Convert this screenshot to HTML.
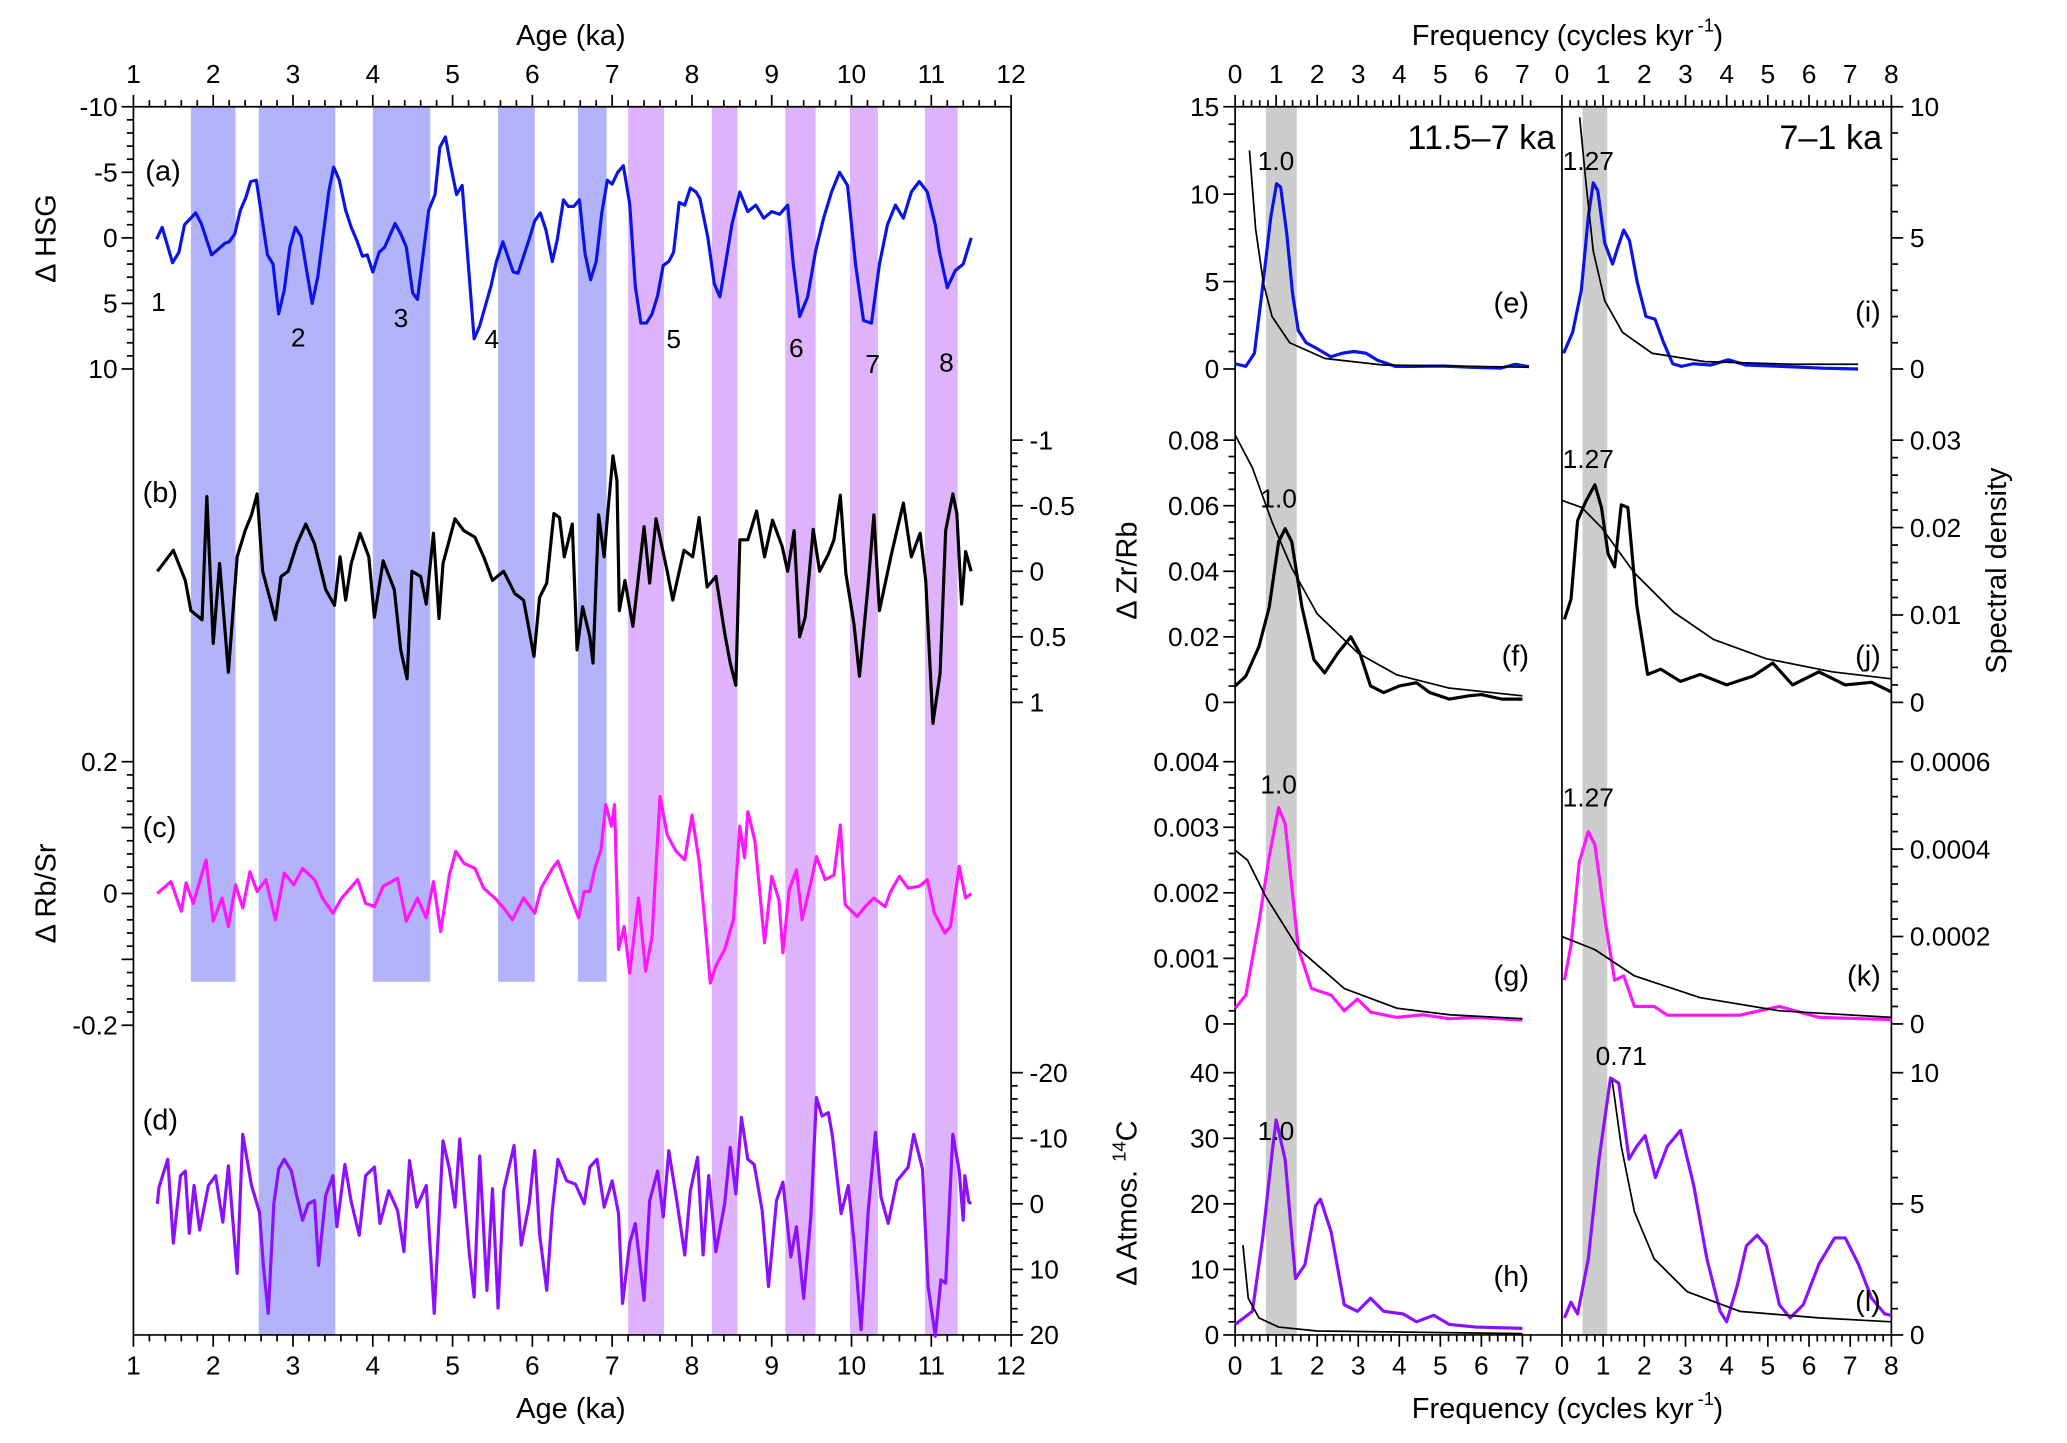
<!DOCTYPE html>
<html><head><meta charset="utf-8"><style>
html,body{margin:0;padding:0;background:#fff}
svg{display:block}
text{font-family:"Liberation Sans",Arial,sans-serif;fill:#000}
</style></head><body>
<svg id="chart" width="2067" height="1443" viewBox="0 0 1568 1095" xmlns="http://www.w3.org/2000/svg">
<g id="bands"></g>
<g id="axes"></g>
<g id="series"></g>
<g id="labels"></g>
<text x="862" y="913" font-size="22" text-anchor="middle" transform="rotate(-90 862 913)">Δ Atmos. <tspan font-size="14" dy="-8">14</tspan><tspan dy="8">C</tspan></text>
</svg>
<script>
// ---------- data: time series ----------
const hsgAge=[1.29,1.36,1.49,1.57,1.64,1.78,1.85,1.98,2.15,2.2,2.27,2.34,2.41,2.47,2.54,2.68,2.75,2.82,2.89,2.96,3.03,3.1,3.24,3.31,3.45,3.51,3.58,3.66,3.73,3.8,3.87,3.93,4.0,4.08,4.15,4.28,4.35,4.42,4.5,4.56,4.7,4.78,4.84,4.91,4.98,5.05,5.12,5.27,5.34,5.48,5.55,5.63,5.76,5.82,5.96,6.03,6.1,6.17,6.25,6.31,6.39,6.45,6.52,6.59,6.66,6.73,6.8,6.87,6.94,7.0,7.07,7.14,7.22,7.29,7.36,7.43,7.5,7.57,7.64,7.71,7.77,7.84,7.91,7.98,8.05,8.1,8.2,8.28,8.35,8.42,8.5,8.6,8.7,8.8,8.9,9.0,9.1,9.2,9.27,9.35,9.45,9.55,9.65,9.75,9.85,9.95,10.05,10.15,10.25,10.35,10.45,10.55,10.65,10.75,10.85,10.95,11.05,11.1,11.2,11.3,11.4,11.5];
const hsgVal=[0.1,-0.8,1.9,1.1,-1.0,-1.9,-1.1,1.3,0.4,0.3,-0.3,-2.1,-3.1,-4.3,-4.4,1.3,2.0,5.8,4.0,0.7,-0.8,-0.1,5.0,3.0,-3.6,-5.4,-4.4,-2.1,-0.8,0.2,1.4,1.3,2.6,1.1,0.7,-1.1,-0.3,0.7,4.2,4.7,-2.1,-3.3,-6.9,-7.7,-5.4,-3.3,-4.0,7.7,6.7,3.7,1.8,0.3,2.6,2.7,0.1,-1.3,-1.9,-0.6,1.8,0.2,-2.9,-2.4,-2.4,-2.9,1.2,3.2,1.8,-1.9,-4.4,-4.1,-5.0,-5.5,-2.6,3.7,6.5,6.5,5.8,4.4,2.1,1.8,1.1,-2.7,-2.5,-3.8,-3.5,-3.0,0,3.5,4.5,2,-1,-3.5,-2,-2.5,-1.5,-2,-1.8,-2.5,2,6,4.5,1,-1.5,-3.5,-5,-4,2,6.3,6.5,2,-1,-2.5,-1.5,-3.5,-4.3,-3.5,-1,1,3.8,2.5,2,0];
const zrAge=[1.3,1.5,1.65,1.72,1.86,1.92,2.0,2.08,2.19,2.3,2.4,2.48,2.55,2.62,2.78,2.85,2.94,3.05,3.16,3.27,3.41,3.52,3.59,3.66,3.73,3.84,3.95,4.02,4.13,4.27,4.35,4.43,4.49,4.6,4.67,4.76,4.83,4.88,5.03,5.14,5.28,5.39,5.5,5.64,5.78,5.89,5.96,6.02,6.09,6.18,6.27,6.34,6.4,6.5,6.56,6.63,6.72,6.76,6.83,6.9,6.94,7.01,7.06,7.09,7.16,7.26,7.4,7.47,7.55,7.69,7.76,7.9,8.01,8.09,8.19,8.3,8.41,8.48,8.55,8.6,8.7,8.81,8.91,9.01,9.13,9.2,9.28,9.35,9.42,9.52,9.6,9.71,9.78,9.86,9.93,10.03,10.1,10.21,10.28,10.35,10.5,10.65,10.75,10.86,10.93,11.02,11.11,11.18,11.27,11.32,11.38,11.43,11.5];
const zrVal=[0,-0.16,0.07,0.3,0.37,-0.57,0.55,-0.06,0.77,-0.11,-0.31,-0.43,-0.59,0,0.37,0.04,0,-0.21,-0.36,-0.21,0.14,0.26,-0.11,0.22,-0.06,-0.29,-0.11,0.35,-0.08,0.14,0.6,0.82,0,0.04,0.25,-0.29,0.36,-0.06,-0.4,-0.31,-0.26,-0.11,0.07,0,0.17,0.22,0.45,0.65,0.2,0.09,-0.44,-0.41,-0.11,-0.36,0.6,0.27,0.5,0.7,-0.43,-0.11,-0.41,-0.88,-0.69,0.3,0.07,0.42,-0.34,0.09,-0.4,0,0.22,-0.16,-0.11,-0.41,0.12,0.04,0.47,0.7,0.87,-0.24,-0.24,-0.46,-0.11,-0.39,-0.19,0,-0.31,0.5,0.35,-0.32,0,-0.13,-0.24,-0.58,0.02,0.4,0.8,0.09,-0.43,0.3,-0.13,-0.52,-0.11,-0.29,0.07,1.16,0.78,-0.31,-0.59,-0.44,0.25,-0.15,0];
const rbAge=[1.3,1.47,1.6,1.66,1.75,1.91,2.0,2.11,2.19,2.28,2.37,2.46,2.55,2.66,2.78,2.89,3.01,3.12,3.27,3.37,3.5,3.61,3.81,3.91,4.02,4.13,4.31,4.42,4.56,4.67,4.76,4.85,4.96,5.04,5.14,5.28,5.39,5.53,5.64,5.75,5.89,6.03,6.11,6.25,6.32,6.47,6.58,6.65,6.72,6.79,6.86,6.92,6.99,7.03,7.08,7.15,7.22,7.33,7.42,7.5,7.6,7.69,7.8,7.91,8.0,8.09,8.16,8.23,8.3,8.41,8.52,8.6,8.66,8.7,8.79,8.91,9.0,9.09,9.14,9.22,9.31,9.38,9.49,9.56,9.67,9.78,9.86,9.92,10.07,10.17,10.28,10.42,10.49,10.6,10.71,10.85,10.95,11.04,11.17,11.24,11.35,11.43,11.5];
const rbVal=[0,0.018,-0.027,0.016,-0.015,0.051,-0.042,-0.007,-0.05,0.013,-0.022,0.033,0.003,0.021,-0.04,0.031,0.013,0.038,0.021,-0.007,-0.03,-0.007,0.021,-0.015,-0.02,0.011,0.023,-0.042,-0.007,-0.037,0.018,-0.058,0.028,0.064,0.046,0.038,0.008,-0.007,-0.022,-0.04,-0.007,-0.03,0.008,0.038,0.049,-0.002,-0.037,0.003,0.003,0.041,0.066,0.135,0.102,0.135,-0.085,-0.05,-0.121,-0.007,-0.118,-0.065,0.147,0.089,0.064,0.051,0.119,0.049,-0.04,-0.136,-0.11,-0.085,-0.04,0.102,0.054,0.124,0.079,-0.075,0.026,-0.01,-0.09,0.006,0.036,-0.04,0.016,0.056,0.021,0.028,0.104,-0.017,-0.035,-0.02,-0.007,-0.02,0.003,0.026,0.008,0.011,0.021,-0.03,-0.06,-0.05,0.041,-0.007,0];
const c14Age=[1.3,1.32,1.43,1.5,1.59,1.65,1.7,1.76,1.83,1.94,2.03,2.12,2.19,2.3,2.37,2.48,2.58,2.63,2.69,2.76,2.82,2.89,2.98,3.05,3.12,3.19,3.27,3.32,3.41,3.5,3.55,3.65,3.73,3.83,3.91,4.02,4.09,4.2,4.31,4.39,4.46,4.55,4.67,4.77,4.88,4.96,5.03,5.09,5.21,5.27,5.34,5.43,5.5,5.57,5.64,5.77,5.86,5.96,6.03,6.09,6.18,6.25,6.32,6.43,6.54,6.65,6.72,6.81,6.9,7.0,7.08,7.13,7.22,7.29,7.4,7.47,7.57,7.64,7.71,7.81,7.91,7.98,8.07,8.14,8.21,8.3,8.41,8.48,8.55,8.62,8.7,8.78,8.88,8.96,9.06,9.14,9.24,9.31,9.4,9.49,9.56,9.63,9.71,9.76,9.87,9.96,10.03,10.12,10.21,10.3,10.37,10.46,10.57,10.71,10.78,10.89,10.96,11.05,11.12,11.18,11.27,11.35,11.4,11.42,11.47,11.5];
const c14Val=[0,-2.5,-6.8,6,-4.3,-5,4.5,-2.8,4,-2.8,-4.3,2.8,-5.8,10.6,-10.6,-2.8,1.3,9.6,16.7,0,-5.3,-6.8,-5,-1,2.5,0,-0.5,9.4,-1.3,-4.3,3.5,-6,-0.3,4.8,-4.3,-5.6,3,-2,1,7.3,-6.6,0.5,-2.8,16.7,-9.6,-5.3,0.5,-9.9,7.6,14.2,-7.3,13.2,-2.3,15.9,-2,-8.9,6.3,0,-8.1,4.6,13.2,1,-6.8,-3.5,-3,0,-5.6,-6.8,0.5,-3.5,1.5,15.2,6,3,14.7,-0.5,-5,2,-8.1,-0.5,7.8,-2,-7.1,7.8,-4.3,7.3,0,-8.6,-1.5,-13.2,-6.8,-6,1,12.6,-0.5,-3.3,8.1,3.5,14.4,2,-16.2,-13.4,-13.9,-10.4,1.5,-2.8,5.6,19.2,1,-10.9,-1,3,-3.5,-5.6,-10.6,-5.3,12.6,20.2,11.6,12.1,-10.6,-5,2.5,-4.3,-0.3,0];
// bands
const blueStart=[1.72,2.57,4.0,5.57,6.57], blueEnd=[2.28,3.53,4.72,6.03,6.93], blueFull=[0,1,0,0,0];
const purpleStart=[7.2,8.25,9.17,9.98,10.92], purpleEnd=[7.65,8.57,9.55,10.33,11.33];
// ---------- data: spectra ----------
const eF=[0,0.26,0.47,0.66,0.87,1.01,1.11,1.26,1.4,1.54,1.73,1.97,2.33,2.61,2.9,3.19,3.47,3.9,4.33,5.04,5.76,6.47,6.83,7.16];
const eV=[0.3,0.15,0.9,4.5,8.7,10.6,10.4,7.7,4.3,2.2,1.5,1.2,0.7,0.9,1.0,0.9,0.5,0.15,0.15,0.17,0.1,0.05,0.27,0.13];
const eNF=[0.35,0.5,0.69,0.9,1.33,2.19,3.6,7.16], eNV=[12.5,8,4.9,3.0,1.5,0.6,0.23,0.1];
const iF=[0.04,0.26,0.47,0.64,0.76,0.87,1.04,1.23,1.37,1.5,1.64,1.83,2.04,2.26,2.47,2.69,2.9,3.19,3.61,4.04,4.47,5.33,6.33,7.19];
const iV=[0.6,1.4,3.0,5.8,7.1,6.8,4.8,4.0,4.7,5.3,4.9,3.3,2.0,1.9,1.0,0.2,0.1,0.2,0.15,0.35,0.15,0.1,0.03,0];
const iNF=[0.43,0.59,0.76,1.04,1.47,2.19,3.47,5.61,7.19], iNV=[9.6,7,4.5,2.6,1.4,0.6,0.28,0.18,0.18];
const fF=[0,0.26,0.58,0.83,1.06,1.22,1.38,1.63,1.92,2.18,2.5,2.82,3.04,3.3,3.62,4.0,4.42,4.74,5.22,5.7,6.0,6.5,7.0];
const fV=[0.005,0.008,0.017,0.029,0.049,0.053,0.049,0.029,0.013,0.009,0.015,0.020,0.015,0.005,0.003,0.005,0.006,0.003,0.001,0.002,0.0024,0.001,0.001];
const fNF=[0,0.42,0.9,1.38,2.0,3.0,3.94,5.2,7], fNV=[0.0816,0.0716,0.055,0.041,0.027,0.015,0.0084,0.0044,0.002];
const jF=[0.06,0.22,0.38,0.58,0.8,0.96,1.12,1.28,1.44,1.6,1.82,2.08,2.4,2.88,3.36,4.0,4.64,5.12,5.6,6.24,6.88,7.52,8];
const jV=[0.0095,0.0118,0.0208,0.023,0.0249,0.0223,0.017,0.0155,0.0226,0.0223,0.011,0.0032,0.0038,0.0024,0.0032,0.002,0.003,0.0045,0.002,0.0035,0.002,0.0023,0.0012];
const jNF=[0,0.48,0.96,1.76,2.72,3.68,4.96,6.56,8], jNV=[0.0231,0.0223,0.020,0.0148,0.0103,0.0072,0.005,0.0035,0.0027];
const gF=[0,0.26,0.58,0.83,1.06,1.22,1.54,1.86,2.34,2.66,2.98,3.3,3.94,4.58,5.22,5.87,7];
const gV=[0.00024,0.00044,0.00155,0.00255,0.0033,0.00305,0.00115,0.00054,0.00044,0.0002,0.00038,0.00018,0.0001,0.00014,0.00008,0.0001,0.00006];
const gNF=[0,0.3,0.74,1.54,2.66,3.94,5.22,7], gNV=[0.00265,0.0025,0.00195,0.00115,0.00054,0.00024,0.00014,0.00008];
const kF=[0.06,0.22,0.42,0.64,0.8,1.06,1.28,1.5,1.76,2.24,2.56,3.36,4.32,5.28,6.24,8];
const kV=[0.0001,0.00018,0.00037,0.00044,0.00041,0.00023,0.0001,0.00011,0.00004,0.00004,0.00002,0.00002,0.00002,0.00004,0.000015,0.00001];
const kNF=[0,0.8,1.76,3.36,5.28,8], kNV=[0.0002,0.00017,0.00011,0.00006,0.00003,0.000015];
const hF=[0,0.42,0.67,0.9,1.0,1.22,1.47,1.7,1.96,2.08,2.34,2.66,2.98,3.3,3.62,4.1,4.42,4.84,5.22,5.87,7];
const hV=[1.6,3.6,14.7,27.7,32.8,26.7,8.6,10.7,19.7,20.7,15.7,4.6,3.6,5.6,3.6,3.2,2.0,3.0,1.6,1.2,1.0];
const hNF=[0.19,0.32,0.58,1.06,2,7], hNV=[13.7,5.6,2.6,1.2,0.6,0.2];
const lF=[0.06,0.22,0.38,0.64,0.9,1.18,1.38,1.63,1.82,2.02,2.27,2.56,2.88,3.2,3.52,3.84,4.0,4.26,4.48,4.74,4.96,5.28,5.54,5.86,6.24,6.62,6.88,7.2,7.52,7.84,8];
const lV=[0.65,1.25,0.8,2.9,6.7,9.8,9.6,6.7,7.2,7.6,6.0,7.2,7.8,5.7,2.9,0.9,0.5,1.9,3.4,3.8,3.4,1.15,0.65,1.15,2.7,3.7,3.7,2.7,1.4,0.8,0.75];
const lNF=[1.22,1.44,1.76,2.24,3.04,4.32,6.24,8], lNV=[9.7,7.2,4.7,2.9,1.65,0.9,0.65,0.5];

// ---------- layout ----------
const NS="http://www.w3.org/2000/svg";
const gB=document.getElementById('bands'),gA=document.getElementById('axes'),gS=document.getElementById('series'),gL=document.getElementById('labels');
const TOP=81,BOT=1013,LX0=101,LX1=767;
function ageX(a){return LX0+(a-1)*(LX1-LX0)/11;}
function lin(v0,p0,v1,p1){return v=>p0+(v-v0)*(p1-p0)/(v1-v0);}
const yA=lin(-10,81,10,280), yB=lin(-1,334,1,533), yC=lin(0.2,578,-0.2,778), yD=lin(-20,814,20,1013);
const SL0=937,SL1=1185,SR1=1435;
const fxL=lin(0,937,7,1155), fxR=lin(0,1185,8,1435);
const yE=lin(0,280,15,81), yI=lin(0,280,10,81), yF=lin(0,533,0.08,334), yJ=lin(0,533,0.03,334);
const yG=lin(0,777,0.004,578), yK=lin(0,777,0.0006,578), yH=lin(0,1013,40,814), yLL=lin(0,1013,10,814);

function el(tag,attrs,parent){const e=document.createElementNS(NS,tag);for(const k in attrs)e.setAttribute(k,attrs[k]);parent.appendChild(e);return e;}
function txt(s,x,y,size,anchor,parent,name,extra){const t=el('text',Object.assign({x:x,y:y,'font-size':size,'text-anchor':anchor||'start'},extra||{}),parent);t.textContent=s;
 
 
 return t;}
function line(x1,y1,x2,y2,w){return el('line',{x1:x1,y1:y1,x2:x2,y2:y2,stroke:'#000','stroke-width':w||1.3},gA);}
function series(xs,ys,fx,fy,color,w,name){
  const d=xs.map((v,i)=>(i?'L':'M')+fx(v).toFixed(2)+' '+fy(ys[i]).toFixed(2)).join(' ');
  const p=el('path',{d:d,fill:'none',stroke:color,'stroke-width':w,'stroke-linejoin':'round'},gS);
  
  
}

// bands
blueStart.forEach((s,i)=>{const r=el('rect',{x:ageX(s),y:TOP,width:ageX(blueEnd[i])-ageX(s),height:(blueFull[i]?BOT:745)-TOP,fill:'#b3b3fb'},gB);
 
 });
purpleStart.forEach((s,i)=>{const r=el('rect',{x:ageX(s),y:TOP,width:ageX(purpleEnd[i])-ageX(s),height:BOT-TOP,fill:'#dfb3fb'},gB);
 
 });
[[0.75,1.5,fxL],[0.5,1.1,fxR]].forEach(b=>{const r=el('rect',{x:b[2](b[0]),y:TOP,width:b[2](b[1])-b[2](b[0]),height:BOT-TOP,fill:'#cccccc'},gB);
 
 });

// left frame
line(LX0,TOP,LX1,TOP);line(LX0,BOT,LX1,BOT);line(LX0,TOP,LX0,BOT);line(LX1,TOP,LX1,BOT);
for(let k=0;k<=55;k++){const a=1+k*0.2;const m=(k%5===0);const x=ageX(a);
 line(x,TOP,x,TOP-(m?9:5));line(x,BOT,x,BOT+(m?9:5));
 if(m){txt(String(Math.round(a)),x,TOP-18,20,'middle',gL,'top-age-tick');txt(String(Math.round(a)),x,BOT+30,20,'middle',gL,'bottom-age-tick');}}
txt('Age (ka)',433,34,22,'middle',gL,'top-x-axis-title');
txt('Age (ka)',433,1076,22,'middle',gL,'bottom-x-axis-title');
for(let v=-10;v<=10;v++){const y=yA(v);line(LX0,y,LX0-(v%5===0?9:5),y);if(v%5===0)txt(String(v),LX0-12,y+7,20,'end',gL,'hsg-tick');}
for(let k=-10;k<=10;k++){const v=k/10;const m=(k%5===0);const y=yB(v);line(LX1,y,LX1+(m?9:5),y);
 if(m){txt(String(k/10),LX1+14,y+7,20,'start',gL,'zrrb-tick');}}
for(let k=-10;k<=10;k++){const v=k*0.02;const m=(k%5===0);const y=yC(v);line(LX0,y,LX0-(m?9:5),y);
 if(m&&k%10===0){txt(String(k/50),LX0-12,y+7,20,'end',gL,'rbsr-tick');}}
for(let v=-20;v<=20;v+=2){const y=yD(v);const m=v%10===0;line(LX1,y,LX1+(m?9:5),y);if(m)txt(String(v),LX1+14,y+7,20,'start',gL,'c14-tick');}
txt('Δ HSG',42,181,22,'middle',gL,'hsg-axis-title',{transform:'rotate(-90 42 181)'});
txt('Δ Rb/Sr',42,678,22,'middle',gL,'rbsr-axis-title',{transform:'rotate(-90 42 678)'});

series(hsgAge,hsgVal,ageX,yA,'#0a14e6',2.4,'hsg-line');
series(zrAge,zrVal,ageX,yB,'#000',2.4,'zrrb-line');
series(rbAge,rbVal,ageX,yC,'#ff16ff',2.4,'rbsr-line');
series(c14Age,c14Val,ageX,yD,'#8c10ff',2.4,'c14-line');
[['(a)',110,137],['(b)',108,381],['(c)',108,635],['(d)',108,857]].forEach(p=>txt(p[0],p[1],p[2],22,'start',gL,'panel-label'));
[['1',120,236],['2',226,263],['3',304,248],['4',373,264],['5',511,264],['6',604,271],['7',662,283],['8',718,282]].forEach(p=>txt(p[0],p[1],p[2],20,'middle',gL,'event-number'));

// spectral frames
line(SL0,TOP,SR1,TOP);line(SL0,BOT,SR1,BOT);line(SL0,TOP,SL0,BOT);line(SL1,TOP,SL1,BOT);line(SR1,TOP,SR1,BOT);
for(let k=0;k<=36;k++){const f=k*0.2;const x=fxL(f);const m=(k%5===0);line(x,TOP,x,TOP-(m?9:5));line(x,BOT,x,BOT+(m?9:5));
 if(m){txt(String(k/5),x,TOP-18,20,'middle',gL,'freq-tick');txt(String(k/5),x,BOT+30,20,'middle',gL,'freq-tick');}}
for(let k=0;k<=40;k++){const f=k*0.2;const x=fxR(f);const m=(k%5===0);line(x,TOP,x,TOP-(m?9:5));line(x,BOT,x,BOT+(m?9:5));
 if(m){txt(String(k/5),x,TOP-18,20,'middle',gL,'freq-tick');txt(String(k/5),x,BOT+30,20,'middle',gL,'freq-tick');}}
txt('Frequency (cycles kyr',1178,34,22,'middle',gL,'top-freq-title');
txt('-1',1288,24,14,'start',gL,'exp');txt(')',1300,34,22,'start',gL,'paren');
txt('Frequency (cycles kyr',1178,1076,22,'middle',gL,'bottom-freq-title');
txt('-1',1288,1066,14,'start',gL,'exp');txt(')',1300,1076,22,'start',gL,'paren');
function leftTicks(fy,n,per,labels){for(let k=0;k<=n;k++){const v=k*(labels.max/n);const y=fy(v);line(SL0,y,SL0-(k%per===0?9:5),y);}
 labels.list.forEach(s=>{txt(s,SL0-12,fy(parseFloat(s))+7,20,'end',gL,'spectral-left-tick');});}
function rightTicks(fy,n,per,labels){for(let k=0;k<=n;k++){const v=k*(labels.max/n);const y=fy(v);line(SR1,y,SR1+(k%per===0?9:5),y);}
 labels.list.forEach(s=>{txt(s,SR1+14,fy(parseFloat(s))+7,20,'start',gL,'spectral-right-tick');});}
leftTicks(yE,15,5,{max:15,list:['15','10','5','0']});
leftTicks(yF,16,4,{max:0.08,list:['0.08','0.06','0.04','0.02','0']});
leftTicks(yG,20,5,{max:0.004,list:['0.004','0.003','0.002','0.001','0']});
leftTicks(yH,20,5,{max:40,list:['40','30','20','10','0']});
rightTicks(yI,10,5,{max:10,list:['10','5','0']});
rightTicks(yJ,15,5,{max:0.03,list:['0.03','0.02','0.01','0']});
rightTicks(yK,15,5,{max:0.0006,list:['0.0006','0.0004','0.0002','0']});
rightTicks(yLL,10,5,{max:10,list:['10','5','0']});
txt('Δ Zr/Rb',862,433,22,'middle',gL,'zrrb-axis-title',{transform:'rotate(-90 862 433)'});
txt('Spectral density',1522,433,22,'middle',gL,'spectral-density-title',{transform:'rotate(-90 1522 433)'});

series(eF,eV,fxL,yE,'#0a14e6',2.4,'e-spectrum');series(eNF,eNV,fxL,yE,'#000',1.3,'e-noise');
series(iF,iV,fxR,yI,'#0a14e6',2.4,'i-spectrum');series(iNF,iNV,fxR,yI,'#000',1.3,'i-noise');
series(fF,fV,fxL,yF,'#000',2.4,'f-spectrum');series(fNF,fNV,fxL,yF,'#000',1.3,'f-noise');
series(jF,jV,fxR,yJ,'#000',2.4,'j-spectrum');series(jNF,jNV,fxR,yJ,'#000',1.3,'j-noise');
series(gF,gV,fxL,yG,'#ff16ff',2.4,'g-spectrum');series(gNF,gNV,fxL,yG,'#000',1.3,'g-noise');
series(kF,kV,fxR,yK,'#ff16ff',2.4,'k-spectrum');series(kNF,kNV,fxR,yK,'#000',1.3,'k-noise');
series(hF,hV,fxL,yH,'#8c10ff',2.4,'h-spectrum');series(hNF,hNV,fxL,yH,'#000',1.3,'h-noise');
series(lF,lV,fxR,yLL,'#8c10ff',2.4,'l-spectrum');series(lNF,lNV,fxR,yLL,'#000',1.3,'l-noise');
[['1.0',968,129],['1.0',970,385],['1.0',970,602],['1.0',968,865],['1.27',1205,129],['1.27',1205,355],['1.27',1205,612],['0.71',1230,808]].forEach(p=>txt(p[0],p[1],p[2],20,'middle',gL,'peak-label'));
txt('11.5–7 ka',1180,113,26,'end',gL,'period-label-early');
txt('7–1 ka',1428,113,26,'end',gL,'period-label-late');
[['(e)',1160,237],['(f)',1160,505],['(g)',1160,748],['(h)',1160,976],['(i)',1427,244],['(j)',1427,505],['(k)',1427,748],['(l)',1427,995]].forEach(p=>txt(p[0],p[1],p[2],22,'end',gL,'panel-label'));
</script>
</body></html>
